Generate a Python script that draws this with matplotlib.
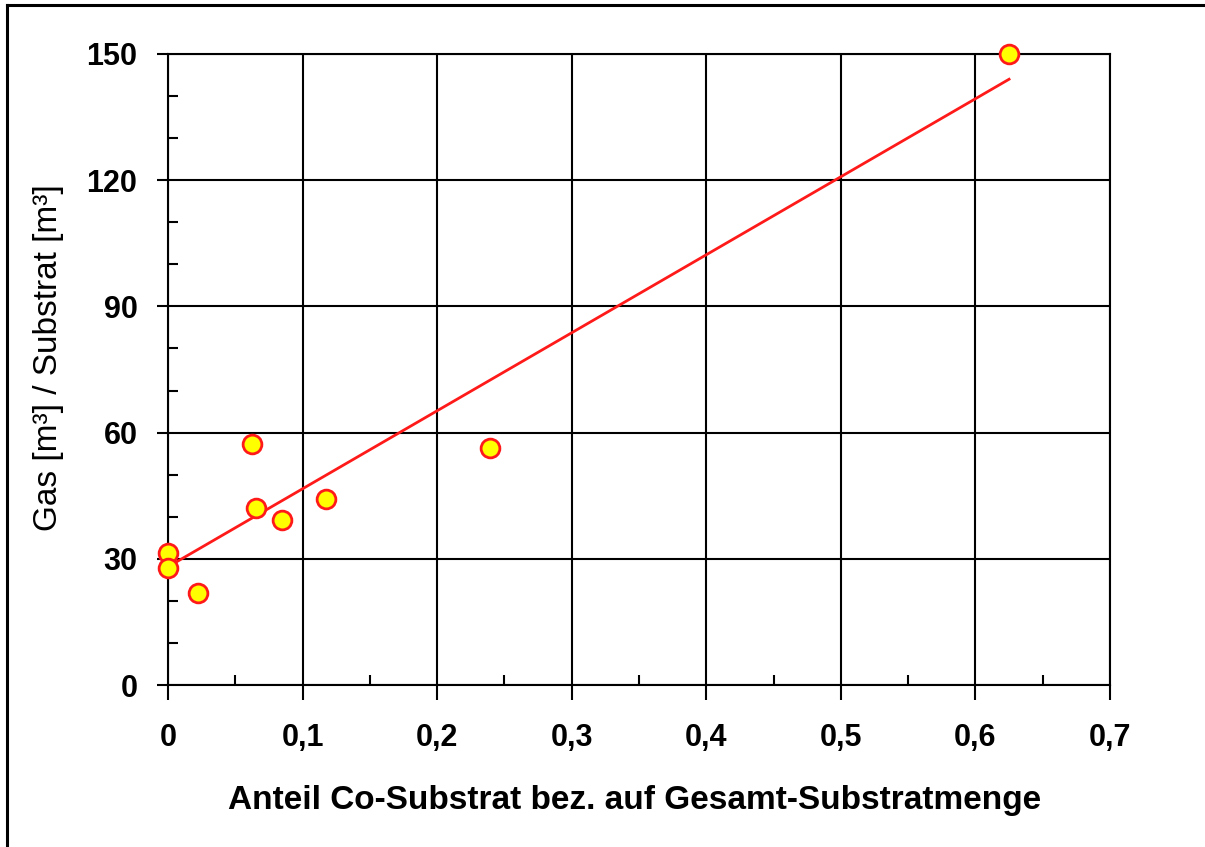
import matplotlib
matplotlib.use("Agg")
import matplotlib.pyplot as plt
from matplotlib.lines import Line2D
from matplotlib.ticker import MultipleLocator, FuncFormatter

plt.rcParams['font.family'] = ['Liberation Sans', 'DejaVu Sans']

# Share of co-substrate vs. gas yield per substrate volume
anteil = [0.0, 0.0, 0.0221, 0.0627, 0.0654, 0.0850, 0.1174, 0.2393, 0.6252]
gas = [31.4, 27.9, 21.8, 57.3, 42.0, 39.2, 44.1, 56.4, 150.0]

# Linear trend line (start and end of the fitted line)
trend_x = [0.0, 0.625]
trend_y = [28.1, 144.0]

x_ticks = [0, 0.1, 0.2, 0.3, 0.4, 0.5, 0.6, 0.7]
y_ticks = [0, 30, 60, 90, 120, 150]

W, H = 1205, 847
fig = plt.figure(figsize=(W / 100, H / 100), dpi=100)
fig.patch.set_facecolor('white')

ax = fig.add_axes([168 / W, 1 - 685 / H, (1110 - 168) / W, (685 - 54) / H])
ax.set_xlim(0, 0.7)
ax.set_ylim(0, 150)

ax.grid(True, which='major', color='black', linewidth=1.5)
ax.set_axisbelow(True)
for sp in ax.spines.values():
    sp.set_linewidth(1.5)
    sp.set_color('black')

ax.set_xticks(x_ticks)
ax.set_yticks(y_ticks)
ax.xaxis.set_minor_locator(MultipleLocator(0.05))
ax.yaxis.set_minor_locator(MultipleLocator(10))

fmt = FuncFormatter(lambda v, p: ('%g' % v).replace('.', ','))
ax.xaxis.set_major_formatter(fmt)
ax.yaxis.set_major_formatter(FuncFormatter(lambda v, p: '%d' % v))

ax.tick_params(axis='both', which='major', direction='out', width=1.5,
               labelsize=22, colors='black')
ax.tick_params(axis='x', which='major', length=11, pad=16)
ax.tick_params(axis='y', which='major', length=8, pad=14)
ax.tick_params(axis='both', which='minor', direction='in', length=7, width=1.5)
for lab in ax.get_xticklabels() + ax.get_yticklabels():
    lab.set_fontweight('bold')

ax.plot(trend_x, trend_y, color='#ff1a1a', linewidth=2.0, zorder=3)
ax.plot(anteil, gas, linestyle='none', marker='o', markersize=13.5,
        markerfacecolor='#ffff00', markeredgecolor='#ff1a1a',
        markeredgewidth=2.0, zorder=4, clip_on=False)

fig.text(635 / W, 1 - 800 / H, 'Anteil Co-Substrat bez. auf Gesamt-Substratmenge',
         ha='center', va='center', fontsize=24, fontweight='bold')
fig.text(49 / W, 1 - 358 / H, 'Gas [m³] / Substrat [m³]', rotation=90,
         ha='center', va='center', fontsize=24)

# Outer frame on the left and top edges
fig.add_artist(Line2D([7.5 / W, 7.5 / W], [0, 1 - 5 / H], color='black',
                      linewidth=2.2, transform=fig.transFigure))
fig.add_artist(Line2D([7.5 / W, 1], [1 - 5 / H, 1 - 5 / H], color='black',
                      linewidth=2.2, transform=fig.transFigure))

fig.savefig('out.png', dpi=100)
